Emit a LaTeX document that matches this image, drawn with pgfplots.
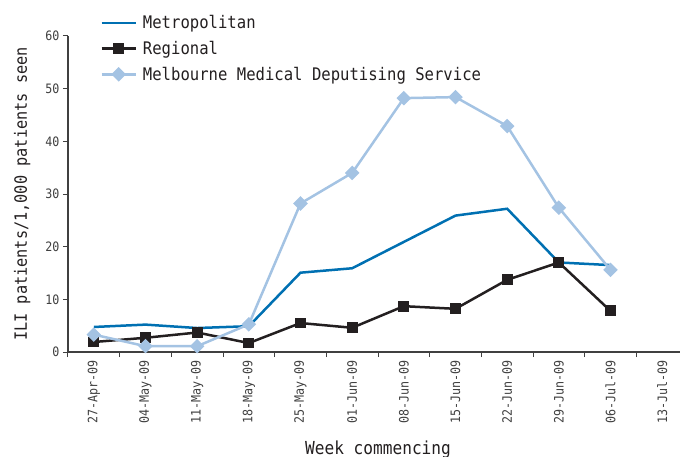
\documentclass[border=0pt]{standalone}
\usepackage{pgfplots}
\pgfplotsset{compat=1.18}
\usepackage{fontspec}
\setmainfont{DejaVu Sans Mono}[FakeStretch=0.9]
\definecolor{metro}{HTML}{0070B2}
\definecolor{regional}{HTML}{231F20}
\definecolor{mmds}{HTML}{A4C3E3}
\definecolor{axisgray}{HTML}{404040}
\begin{document}
\begin{tikzpicture}
\begin{axis}[
  at={(0,0)}, anchor=south west,
  scale only axis, width=620bp, height=316bp,
  xmin=-0.5, xmax=11.5, ymin=0, ymax=60,
  axis lines=left,
  axis line style={-, draw=axisgray, line width=1.3bp},
  tick align=outside,
  major tick length=5bp,
  tick style={draw=axisgray, line width=1bp},
  ytick={0,10,...,60},
  xtick={-0.5,0.5,...,11.5},
  xticklabels={,,,,,,,,,,,,,},
  extra x ticks={0,1,...,11},
  extra x tick labels={27-Apr-09,04-May-09,11-May-09,18-May-09,25-May-09,01-Jun-09,08-Jun-09,15-Jun-09,22-Jun-09,29-Jun-09,06-Jul-09,13-Jul-09},
  extra x tick style={tick style={draw=none}, tick label style={rotate=90, anchor=east}},
  ticklabel style={font=\fontsize{13}{15}\selectfont, text=axisgray},
  /pgf/number format/assume math mode=true,
  ylabel={ILI patients/1,000 patients seen},
  ylabel style={at={(axis description cs:-0.074,0.5)}, anchor=center, font=\fontsize{17}{20}\selectfont, text=regional},
  xlabel={Week commencing},
  xlabel style={at={(axis description cs:0.5,-0.323)}, anchor=base, font=\fontsize{18}{21}\selectfont, text=regional},
  legend style={at={(axis description cs:0.052,1.072)}, anchor=north west, draw=none, fill=none,
     font=\fontsize{17.4}{20}\selectfont, row sep=7bp, column sep=4bp, inner sep=0pt, text=regional},
  legend cell align=left,
  legend image code/.code={\draw[mark repeat=2,mark phase=2] plot coordinates {(0cm,0cm) (0.6cm,0cm) (1.2cm,0cm)};},
  clip=false,
]
\addplot[metro, line width=2.5bp] coordinates {
 (0,4.75) (1,5.2) (2,4.55) (3,4.9) (4,15.06) (5,15.9) (6,20.9) (7,25.9) (8,27.2) (9,17.0) (10,16.5)};
\addlegendentry{Metropolitan}
\addplot[regional, line width=2.5bp, mark=square*, mark size=4.2bp, mark options={solid}] coordinates {
 (0,1.9) (1,2.7) (2,3.7) (3,1.7) (4,5.5) (5,4.6) (6,8.7) (7,8.2) (8,13.7) (9,17.0) (10,7.8)};
\addlegendentry{Regional}
\addplot[mmds, line width=2.5bp, mark=square*, mark size=3.9bp, mark options={solid, rotate=45}] coordinates {
 (0,3.3) (1,1.1) (2,1.1) (3,5.25) (4,28.2) (5,34.0) (6,48.2) (7,48.4) (8,42.9) (9,27.4) (10,15.6)};
\addlegendentry{Melbourne Medical Deputising Service}
\end{axis}
\pgfresetboundingbox
\path (-68bp,-105bp) rectangle (612bp,352bp);
\end{tikzpicture}
\end{document}
